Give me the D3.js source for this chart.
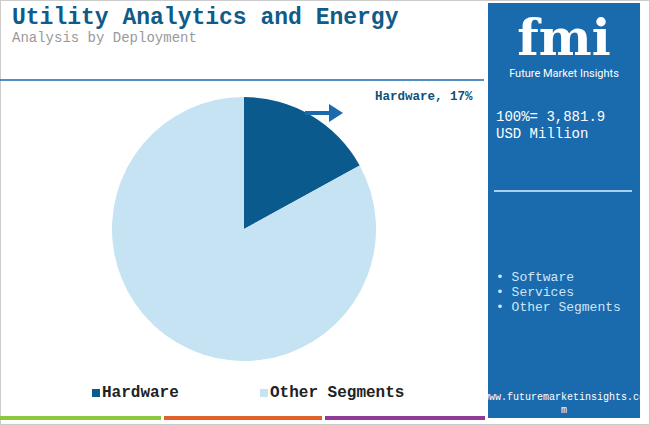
<!DOCTYPE html>
<html><head><meta charset="utf-8">
<script src="https://cdn.jsdelivr.net/npm/d3@7"></script>
<style>body{margin:0;background:#fff}svg{display:block}</style>
</head><body>
<svg id="chart" width="650" height="425"></svg>
<script>
const segments = ['Hardware', 'Other Segments'];
const shares = [17, 83];
const colors = ['#0b5a8e', '#c5e3f3'];
const otherList = ['Software', 'Services', 'Other Segments'];
const total = '3,881.9';

const svg = d3.select('#chart');
const mono = 'Liberation Mono, DejaVu Sans Mono, monospace';

svg.append('rect').attr('x', 0.5).attr('y', 0.5).attr('width', 649).attr('height', 424)
  .attr('fill', 'none').attr('stroke', '#ccc');

svg.append('text').attr('x', 12).attr('y', 24).attr('font-family', mono).attr('font-weight', 'bold')
  .attr('font-size', 23).attr('fill', '#0f5b8a').text('Utility Analytics and Energy');
svg.append('text').attr('x', 12).attr('y', 42).attr('font-family', mono)
  .attr('font-size', 14).attr('fill', '#999').text('Analysis by Deployment');

svg.append('line').attr('x1', 0).attr('x2', 484).attr('y1', 80).attr('y2', 80)
  .attr('stroke', '#1a6aae').attr('stroke-width', 1.5);

// pie
const pie = d3.pie().sort(null).value((d) => d);
const arc = d3.arc().innerRadius(0).outerRadius(132);
svg.append('g').attr('transform', 'translate(244,229)')
  .selectAll('path').data(pie(shares)).join('path')
  .attr('d', arc).attr('fill', (d, i) => colors[i]);

// arrow + label
svg.append('path').attr('d', 'M305,113 L331,113').attr('stroke', '#1a6aae').attr('stroke-width', 4);
svg.append('path').attr('d', 'M329,104 L343,113 L329,122 Z').attr('fill', '#1a6aae');
svg.append('text').attr('x', 375).attr('y', 100).attr('font-family', mono).attr('font-weight', 'bold')
  .attr('font-size', 12.5).attr('fill', '#0f4f7a').text(`${segments[0]}, ${shares[0]}%`);

// legend
const leg = svg.append('g');
const lx = [92, 260];
segments.forEach((s, i) => {
  leg.append('rect').attr('x', lx[i]).attr('y', 389).attr('width', 8).attr('height', 8).attr('fill', colors[i]);
  leg.append('text').attr('x', lx[i] + 10).attr('y', 397).attr('font-family', mono).attr('font-weight', 'bold')
    .attr('font-size', 16).attr('fill', '#222').text(s);
});

// bottom bars
[['#8dc63f', 0, 161], ['#e0622a', 164, 322], ['#8e3a96', 325, 485]].forEach(([c, a, b]) => {
  svg.append('rect').attr('x', a).attr('y', 416).attr('width', b - a).attr('height', 4).attr('fill', c);
});

// side panel
const px = 488;
svg.append('rect').attr('x', px).attr('y', 3).attr('width', 152).attr('height', 415).attr('fill', '#1a6aae');
svg.append('text').attr('x', 564).attr('y', 55).attr('text-anchor', 'middle').attr('font-family', 'DejaVu Serif, serif')
  .attr('font-weight', 'bold').attr('font-size', 50).attr('fill', '#fff').text('fmi');
svg.append('text').attr('x', 564).attr('y', 77).attr('text-anchor', 'middle').attr('font-family', 'Liberation Sans Narrow, Roboto, sans-serif')
  .attr('font-size', 11).attr('fill', '#fff').text('Future Market Insights');
svg.append('text').attr('x', 496).attr('y', 121).attr('font-family', mono).attr('font-size', 14).attr('fill', '#fff').text(`100%= ${total}`);
svg.append('text').attr('x', 496).attr('y', 138).attr('font-family', mono).attr('font-size', 14).attr('fill', '#fff').text('USD Million');
svg.append('line').attr('x1', 494).attr('x2', 632).attr('y1', 191).attr('y2', 191).attr('stroke', '#a9d0ee').attr('stroke-width', 2);
otherList.forEach((t, i) => {
  svg.append('text').attr('x', 496).attr('y', 281 + i * 15).attr('font-family', mono).attr('font-size', 13)
    .attr('fill', '#cfe6f7').text(`\u2022 ${t}`);
});
svg.append('text').attr('x', 564).attr('y', 400).attr('text-anchor', 'middle').attr('font-family', mono)
  .attr('font-size', 10).attr('fill', '#fff').text('www.futuremarketinsights.co');
svg.append('text').attr('x', 564).attr('y', 413).attr('text-anchor', 'middle').attr('font-family', mono)
  .attr('font-size', 10).attr('fill', '#fff').text('m');
</script>
</body></html>
